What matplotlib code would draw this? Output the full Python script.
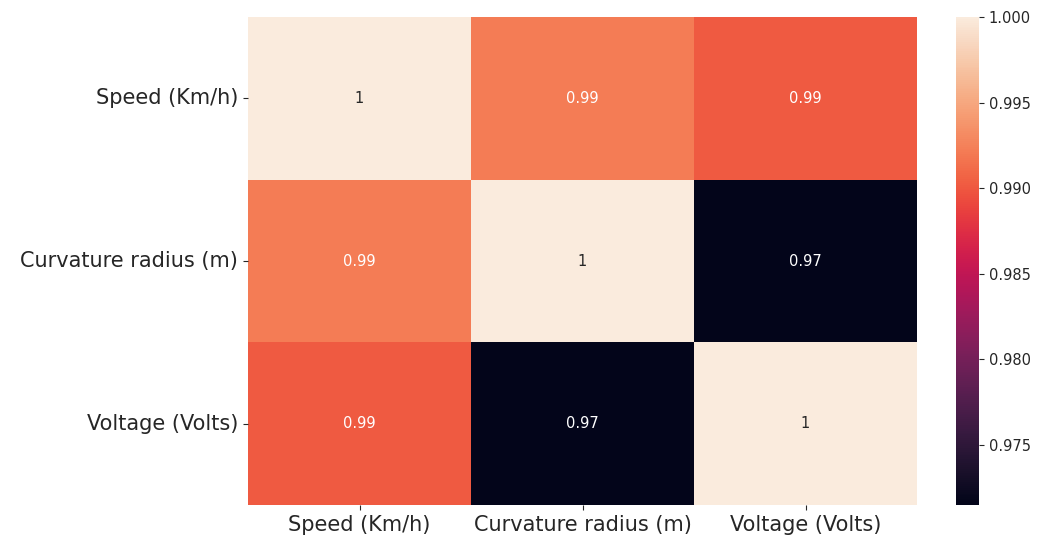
import numpy as np
import pandas as pd
import matplotlib
matplotlib.use("Agg")
import matplotlib.pyplot as plt
import seaborn as sns

labels = ["Speed (Km/h)", "Curvature radius (m)", "Voltage (Volts)"]
corr_speed_curv = 0.9922
corr_speed_volt = 0.9901
corr_curv_volt = 0.9715

corr = pd.DataFrame(
    [[1.0, corr_speed_curv, corr_speed_volt],
     [corr_speed_curv, 1.0, corr_curv_volt],
     [corr_speed_volt, corr_curv_volt, 1.0]],
    index=labels, columns=labels,
)

plt.rcParams["text.color"] = "#262626"
plt.rcParams["xtick.color"] = "#262626"
plt.rcParams["ytick.color"] = "#262626"

fig = plt.figure(figsize=(10.5, 5.4), dpi=100)
ax = fig.add_axes([248 / 1050, 1 - 505 / 540, 669 / 1050, 488 / 540])
cax = fig.add_axes([956 / 1050, 1 - 505 / 540, 23 / 1050, 488 / 540])

sns.heatmap(corr, annot=True, ax=ax, cbar_ax=cax, annot_kws={"size": 10.5})
ax.tick_params(axis="both", labelsize=15)
plt.setp(ax.get_yticklabels(), rotation=0)
plt.setp(ax.get_xticklabels(), rotation=0)
cax.tick_params(labelsize=10.5)

fig.savefig("out.png", dpi=100)
